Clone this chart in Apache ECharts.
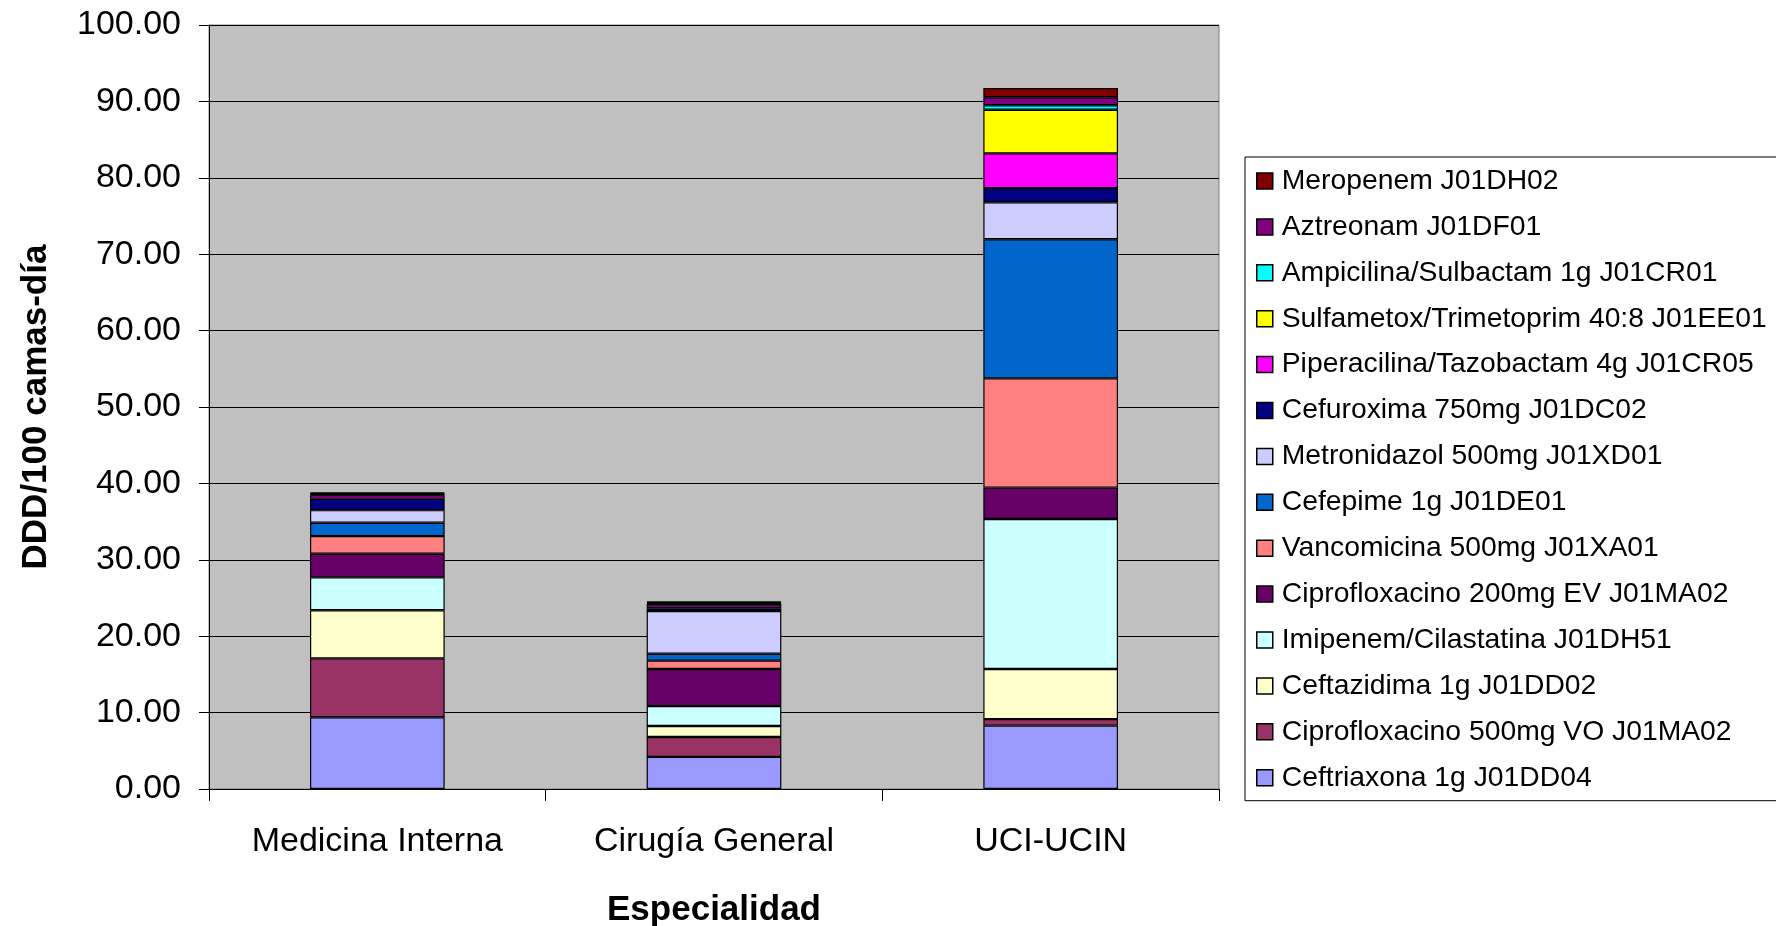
<!DOCTYPE html>
<html>
<head>
<meta charset="utf-8">
<script src="https://cdn.jsdelivr.net/npm/echarts@6/dist/echarts.min.js"></script>
<style>
  html, body { margin: 0; padding: 0; background: #fff; }
  #chart { width: 1776px; height: 926px; }
</style>
</head>
<body>
<div id="chart"></div>
<script>
// Especialidades (eje X)
const categories = ['Medicina Interna', 'Cirugía General', 'UCI-UCIN'];

// DDD/100 camas-día por antibiótico, en el orden de las especialidades
const ceftriaxona   = [9.40, 4.20, 8.30];
const ciproVO       = [7.70, 2.60, 0.85];
const ceftazidima   = [6.30, 1.45, 6.55];
const imipenem      = [4.30, 2.60, 19.65];
const ciproEV       = [3.10, 4.85, 4.10];
const vancomicina   = [2.30, 1.10, 14.30];
const cefepime      = [1.75, 0.90, 18.20];
const metronidazol  = [1.65, 5.60, 4.85];
const cefuroxima    = [1.50, 0.35, 1.85];
const piperacilina  = [0.45, 0.40, 4.55];
const sulfametox    = [0.10, 0.20, 5.70];
const ampicilina    = [0.05, 0.10, 0.60];
const aztreonam     = [0.10, 0.10, 1.05];
const meropenem     = [0.10, 0.10, 1.20];

// Nombres de las series (orden de apilado, de abajo hacia arriba)
const seriesNames = [
  'Ceftriaxona 1g J01DD04',
  'Ciprofloxacino 500mg VO J01MA02',
  'Ceftazidima 1g J01DD02',
  'Imipenem/Cilastatina J01DH51',
  'Ciprofloxacino 200mg EV J01MA02',
  'Vancomicina 500mg J01XA01',
  'Cefepime 1g J01DE01',
  'Metronidazol 500mg J01XD01',
  'Cefuroxima 750mg J01DC02',
  'Piperacilina/Tazobactam 4g J01CR05',
  'Sulfametox/Trimetoprim 40:8 J01EE01',
  'Ampicilina/Sulbactam 1g J01CR01',
  'Aztreonam J01DF01',
  'Meropenem J01DH02'
];
const seriesValues = [
  ceftriaxona, ciproVO, ceftazidima, imipenem, ciproEV, vancomicina,
  cefepime, metronidazol, cefuroxima, piperacilina, sulfametox,
  ampicilina, aztreonam, meropenem
];
const seriesColors = [
  '#9999FF', '#993366', '#FFFFCC', '#CCFFFF', '#660066', '#FF8080',
  '#0066CC', '#CCCCFF', '#000080', '#FF00FF', '#FFFF00',
  '#00FFFF', '#800080', '#800000'
];

// Escala del eje Y
const yMin = 0, yMax = 100, yStep = 10;

const FONT = "'Liberation Sans', Arial, sans-serif";

const chart = echarts.init(document.getElementById('chart'), null, { renderer: 'canvas' });

const series = seriesNames.map((name, i) => ({
  name: name,
  type: 'bar',
  stack: 'total',
  barWidth: '40%',
  data: seriesValues[i],
  itemStyle: { color: seriesColors[i], borderColor: '#000', borderWidth: 1.2 },
  emphasis: { disabled: true }
}));

chart.setOption({
  animation: false,
  backgroundColor: '#ffffff',
  grid: {
    left: 209, right: 557, top: 25, bottom: 137,
    outerBoundsMode: 'none',
    containLabel: false,
    show: true, backgroundColor: '#C0C0C0', borderColor: '#808080', borderWidth: 1
  },
  legend: {
    orient: 'vertical',
    left: 1245, top: 157,
    padding: [9, 14, 8, 11],
    itemGap: 15.9,
    itemWidth: 16, itemHeight: 16,
    icon: 'rect',
    borderColor: '#000', borderWidth: 1,
    backgroundColor: '#fff',
    itemStyle: { borderColor: '#000', borderWidth: 1.5 },
    textStyle: { fontFamily: FONT, fontSize: 28.3, color: '#000', lineHeight: 30, padding: [0, 0, 0, 4] },
    data: seriesNames.slice().reverse()
  },
  xAxis: {
    type: 'category',
    data: categories,
    name: 'Especialidad',
    nameLocation: 'middle',
    nameGap: 104,
    nameTextStyle: { fontFamily: FONT, fontSize: 35, fontWeight: 'bold', color: '#000' },
    axisLine: { lineStyle: { color: '#000', width: 1 } },
    axisTick: { show: true, length: 12, lineStyle: { color: '#000' } },
    axisLabel: { fontFamily: FONT, fontSize: 34, color: '#000', margin: 36 },
    splitLine: { show: false }
  },
  yAxis: {
    type: 'value',
    min: yMin, max: yMax, interval: yStep,
    name: 'DDD/100 camas-día',
    nameLocation: 'middle',
    nameGap: 155,
    nameTextStyle: { fontFamily: FONT, fontSize: 35, fontWeight: 'bold', color: '#000' },
    axisLine: { show: true, lineStyle: { color: '#000', width: 1 } },
    axisTick: { show: true, length: 10, lineStyle: { color: '#000' } },
    axisLabel: {
      fontFamily: FONT, fontSize: 34, color: '#000', margin: 28,
      formatter: v => v.toFixed(2)
    },
    splitLine: { show: true, lineStyle: { color: '#000', width: 1 } }
  },
  series: series
});
</script>
</body>
</html>
